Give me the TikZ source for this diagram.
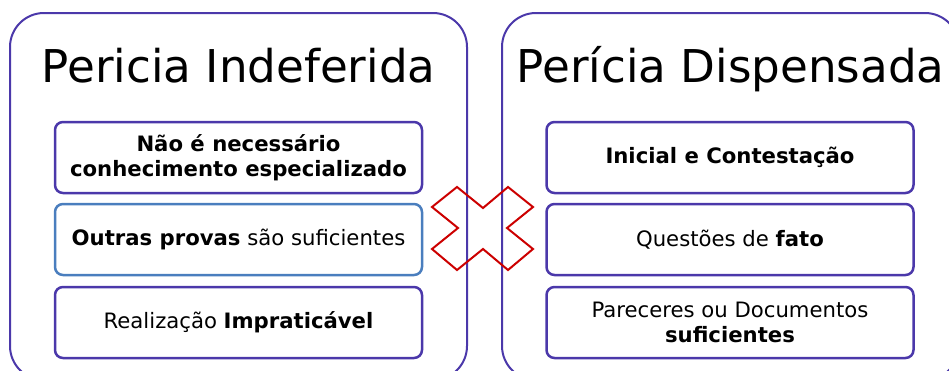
\documentclass[tikz,border=0pt]{standalone}
\usepackage{fontspec}
\setmainfont{DejaVu Sans}
\definecolor{boxpurple}{RGB}{75,56,170}
\definecolor{boxblue}{RGB}{74,126,190}
\definecolor{xred}{RGB}{204,0,0}
\begin{document}
\begin{tikzpicture}[x=1pt,y=-1pt,
  outerbox/.style={draw=boxpurple,line width=2pt,rounded corners=34pt},
  innerbox/.style={draw=boxpurple,line width=2.5pt,rounded corners=8pt,
    minimum width=367pt,minimum height=71pt,align=center,inner sep=0pt,
    font=\fontsize{21.2}{25}\selectfont},
  titletext/.style={font=\fontsize{45.2}{50}\selectfont,anchor=base}]
\useasboundingbox (0,0) rectangle (949,370);
\clip (0,0) rectangle (949,370);
% outer panels
\draw[outerbox] (10,13) rectangle (467,380);
\draw[outerbox] (502,13) rectangle (959,380);
% titles
\node[titletext] (t1) at (238.5,82) {Pericia Indeferida};
\node[titletext] (t2) at (730.5,82) {Perícia Dispensada};
% left inner boxes
\node[innerbox] (l1) at (238.5,157.5) {\textbf{Não é necessário}\\\textbf{conhecimento especializado}};
\node[innerbox,draw=boxblue] (l2) at (238.5,239.5) {\textbf{Outras provas} são suficientes};
\node[innerbox] (l3) at (238.5,322.5) {Realização \textbf{Impraticável}};
% right inner boxes
\node[innerbox] (r1) at (730,157.5) {\textbf{Inicial e Contestação}};
\node[innerbox] (r2) at (730,239.5) {Questões de \textbf{fato}};
\node[innerbox] (r3) at (730,322.5) {Pareceres ou Documentos\\\textbf{suficientes}};
% red cross
\draw[xred,line width=2pt,line join=miter]
  (432,207) -- (457,187) -- (483,208) -- (508,187) -- (533,207) -- (507,228)
  -- (533,249) -- (508,270) -- (483,249) -- (457,270) -- (432,249) -- (458,228) -- cycle;
\end{tikzpicture}
\end{document}
